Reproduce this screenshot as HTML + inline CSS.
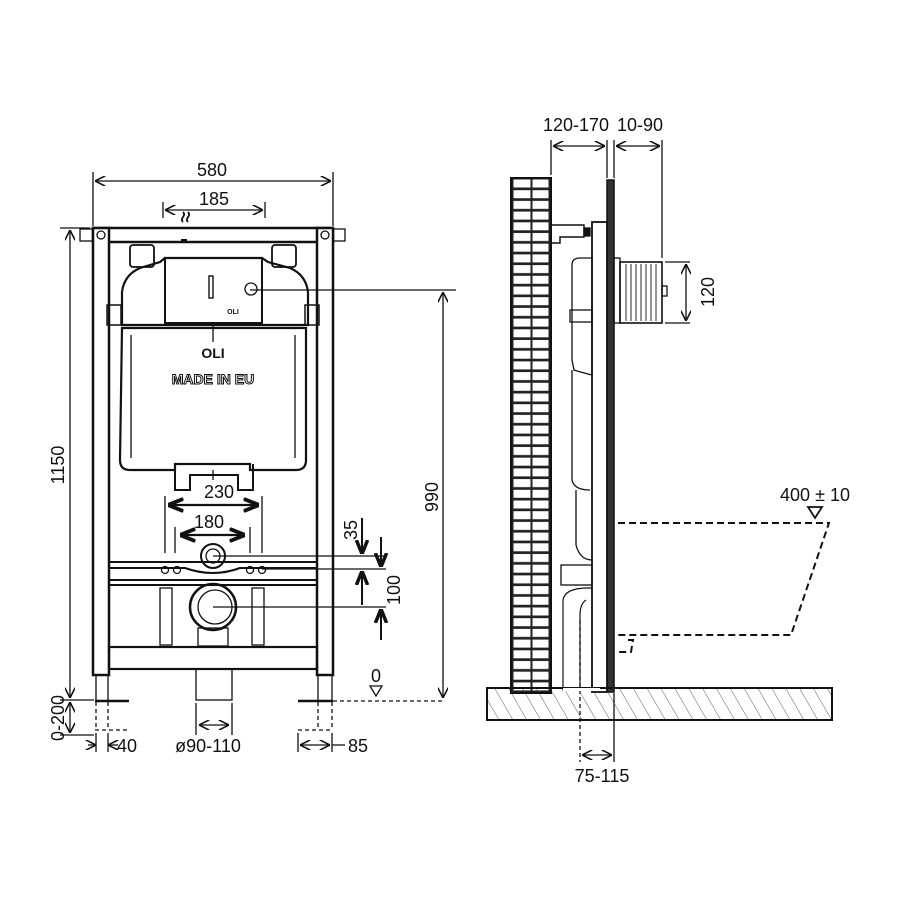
<!DOCTYPE html>
<html><head><meta charset="utf-8"><style>
html,body{margin:0;padding:0;background:#fff}
svg{display:block}
text{font-family:"Liberation Sans",sans-serif;font-size:18px;fill:#111}
</style></head><body>
<svg width="900" height="900" viewBox="0 0 900 900" xmlns="http://www.w3.org/2000/svg">
<defs>
<marker id="a" viewBox="0 0 10 10" refX="10" refY="5" markerWidth="8" markerHeight="8" orient="auto-start-reverse"><path d="M0,0 L10,5 L0,10" fill="none" stroke="#111" stroke-width="1.5"/></marker>
<marker id="b" viewBox="0 0 10 10" refX="10" refY="5" markerWidth="7" markerHeight="7" orient="auto-start-reverse"><path d="M0,1 L10,5 L0,9" fill="none" stroke="#111" stroke-width="2.5"/></marker>
<pattern id="brick" x="511" y="178" width="40" height="10.7" patternUnits="userSpaceOnUse">
<rect x="0" y="0" width="40" height="10.7" fill="#222"/>
<rect x="2.5" y="1.5" width="17" height="8" fill="#fff"/>
<rect x="21.5" y="1.5" width="16" height="8" fill="#fff"/>
</pattern>
<pattern id="hatch" width="12" height="12" patternUnits="userSpaceOnUse" patternTransform="rotate(-30)">
<line x1="0" y1="0" x2="0" y2="12" stroke="#333" stroke-width="0.8"/>
</pattern>
</defs>
<g stroke="#111" fill="none" stroke-width="1.3">
<line x1="93" y1="172" x2="93" y2="226"/><line x1="333" y1="172" x2="333" y2="226"/>
<line x1="95" y1="181" x2="331" y2="181" marker-start="url(#a)" marker-end="url(#a)"/>
<line x1="163" y1="202" x2="163" y2="218"/><line x1="265" y1="202" x2="265" y2="218"/>
<line x1="165" y1="210" x2="263" y2="210" marker-start="url(#a)" marker-end="url(#a)"/>
<rect x="93" y="228" width="240" height="14" stroke-width="2.5"/>
<rect x="93" y="228" width="16" height="447" fill="#fff" stroke-width="2.5"/>
<rect x="317" y="228" width="16" height="447" fill="#fff" stroke-width="2.5"/>
<rect x="80" y="229" width="13" height="12"/><rect x="333" y="229" width="12" height="12"/>
<circle cx="101" cy="235" r="4"/><circle cx="325" cy="235" r="4"/>
<path d="M183,222 c-4,-4 4,-6 0,-10 M188,222 c-4,-4 4,-6 0,-10" stroke-width="1.8"/>
<line x1="181" y1="240" x2="187" y2="240" stroke-width="2"/>
<path d="M122,325 L122,292 Q124,275 140,268 L160,262 L165,258 L262,258 L268,262 L290,268 Q306,275 308,292 L308,325 Z" stroke-width="2.2"/>
<rect x="130" y="245" width="24" height="22" rx="3" stroke-width="1.8"/><rect x="272" y="245" width="24" height="22" rx="3" stroke-width="1.8"/>
<rect x="165" y="258" width="97" height="65" stroke-width="2"/>
<rect x="209" y="276" width="4" height="22" stroke-width="1.4"/>
<circle cx="251" cy="289" r="6"/>
<rect x="107" y="305" width="14" height="20" stroke-width="1.5"/><rect x="305" y="305" width="14" height="20" stroke-width="1.5"/>
<line x1="213" y1="323" x2="213" y2="342"/>
<path d="M122,328 L306,328 L306,460 Q306,470 296,470 L250,470 L250,464 L175,464 L175,470 L130,470 Q120,470 120,460 Z" stroke-width="2.2"/>
<line x1="131" y1="335" x2="131" y2="458"/><line x1="295" y1="335" x2="295" y2="458"/>
<path d="M175,464 L175,490 L190,490 L190,475 L238,475 L238,490 L253,490 L253,464" stroke-width="2"/>
<line x1="213" y1="470" x2="213" y2="480"/>
<line x1="165" y1="496" x2="165" y2="553"/><line x1="262" y1="496" x2="262" y2="553"/>
<line x1="175" y1="527" x2="175" y2="553"/><line x1="250" y1="527" x2="250" y2="553"/>
<line x1="168" y1="505" x2="259" y2="505" marker-start="url(#b)" marker-end="url(#b)" stroke-width="2.2"/>
<line x1="180" y1="535" x2="245" y2="535" marker-start="url(#b)" marker-end="url(#b)" stroke-width="2.2"/>
<circle cx="213" cy="556" r="12" stroke-width="2"/><circle cx="213" cy="556" r="7"/>
<path d="M109,562 L317,562 M109,580 L317,580 M109,568 L185,568 Q213,578 240,568 L317,568" stroke-width="2"/>
<circle cx="165" cy="570" r="3.5"/><circle cx="177" cy="570" r="3.5"/><circle cx="250" cy="570" r="3.5"/><circle cx="262" cy="570" r="3.5"/>
<rect x="109" y="585" width="208" height="62" stroke-width="2"/>
<rect x="160" y="588" width="12" height="57"/><rect x="252" y="588" width="12" height="57"/>
<circle cx="213" cy="607" r="23" stroke-width="2.5"/><circle cx="215" cy="607" r="17"/>
<rect x="198" y="628" width="30" height="18"/>
<rect x="109" y="647" width="208" height="22" stroke-width="2.2"/>
<rect x="196" y="669" width="36" height="31"/>
<line x1="96" y1="675" x2="96" y2="700"/><line x1="108" y1="675" x2="108" y2="700"/>
<line x1="318" y1="675" x2="318" y2="700"/><line x1="332" y1="675" x2="332" y2="700"/>
<line x1="95" y1="701" x2="129" y2="701" stroke-width="2.5"/><line x1="298" y1="701" x2="333" y2="701" stroke-width="2.5"/>
<g stroke-dasharray="4,3">
<line x1="96" y1="702" x2="96" y2="730"/><line x1="108" y1="702" x2="108" y2="730"/>
<line x1="318" y1="702" x2="318" y2="730"/><line x1="332" y1="702" x2="332" y2="730"/>
<line x1="95" y1="730" x2="128" y2="730"/><line x1="298" y1="730" x2="333" y2="730"/>
<line x1="333" y1="701" x2="445" y2="701"/>
</g>
<line x1="60" y1="228" x2="90" y2="228"/><line x1="60" y1="700" x2="94" y2="700"/><line x1="60" y1="735" x2="94" y2="735"/>
<line x1="70" y1="230" x2="70" y2="698" marker-start="url(#a)" marker-end="url(#a)"/>
<line x1="70" y1="702" x2="70" y2="733" marker-start="url(#a)" marker-end="url(#a)"/>
<line x1="250" y1="290" x2="456" y2="290"/>
<line x1="443" y1="292" x2="443" y2="698" marker-start="url(#a)" marker-end="url(#a)"/>
<line x1="213" y1="556" x2="386" y2="556"/><line x1="262" y1="569" x2="386" y2="569"/><line x1="213" y1="607" x2="386" y2="607"/>
<line x1="362" y1="518" x2="362" y2="554" marker-end="url(#b)" stroke-width="2"/>
<line x1="362" y1="605" x2="362" y2="571" marker-end="url(#b)" stroke-width="2"/>
<line x1="381" y1="537" x2="381" y2="567" marker-end="url(#b)" stroke-width="2"/>
<line x1="381" y1="640" x2="381" y2="609" marker-end="url(#b)" stroke-width="2"/>
<path d="M370,686 L382,686 L376,696 Z"/>
<line x1="96" y1="733" x2="96" y2="752"/><line x1="108" y1="733" x2="108" y2="752"/>
<line x1="88" y1="745" x2="96" y2="745" marker-end="url(#a)"/><line x1="118" y1="745" x2="108" y2="745" marker-end="url(#a)"/>
<line x1="196" y1="703" x2="196" y2="735"/><line x1="232" y1="703" x2="232" y2="735"/>
<line x1="199" y1="725" x2="229" y2="725" marker-start="url(#a)" marker-end="url(#a)"/>
<line x1="298" y1="733" x2="298" y2="752"/><line x1="332" y1="733" x2="332" y2="752"/>
<line x1="300" y1="745" x2="330" y2="745" marker-start="url(#a)" marker-end="url(#a)"/>
<line x1="332" y1="745" x2="345" y2="745"/>

<rect x="511" y="178" width="40" height="515" fill="url(#brick)" stroke-width="2"/>
<line x1="551" y1="140" x2="551" y2="175"/><line x1="607" y1="140" x2="607" y2="178"/><line x1="614" y1="140" x2="614" y2="178"/><line x1="662" y1="140" x2="662" y2="258"/>
<line x1="553" y1="146" x2="605" y2="146" marker-start="url(#a)" marker-end="url(#a)"/>
<line x1="616" y1="146" x2="660" y2="146" marker-start="url(#a)" marker-end="url(#a)"/>
<rect x="607" y="180" width="7" height="512" fill="#333" stroke-width="1.5"/>
<rect x="592" y="222" width="15" height="470" fill="#fff" stroke-width="1.8"/>
<path d="M552,225 L584,225 L584,237 L560,237 L560,243 L552,243" stroke-width="1.5"/>
<rect x="584" y="228" width="6" height="8" fill="#111"/>
<path d="M572,265 Q572,258 580,258 L592,258 L592,375 Q580,372 574,370 L572,360 Z" stroke-width="1.3"/>
<rect x="570" y="310" width="22" height="12"/>
<path d="M572,370 L572,480 Q574,490 590,490 M576,490 L576,545 Q580,560 592,560" stroke-width="1.3"/>
<rect x="561" y="565" width="31" height="20"/>
<path d="M563,600 Q565,588 588,588 L592,588 M563,600 L563,690 L600,690 M586,600 Q580,604 580,615 L580,690" stroke-width="1.2"/>
<line x1="580" y1="620" x2="580" y2="762" stroke-dasharray="4,3"/>
<line x1="614" y1="693" x2="614" y2="762"/>
<line x1="582" y1="755" x2="612" y2="755" marker-start="url(#a)" marker-end="url(#a)"/>
<rect x="614" y="258" width="6" height="65"/>
<rect x="620" y="262" width="42" height="61" stroke-width="1.6"/>
<g stroke-width="0.9"><line x1="626" y1="264" x2="626" y2="321"/><line x1="631" y1="264" x2="631" y2="321"/><line x1="636" y1="264" x2="636" y2="321"/><line x1="641" y1="264" x2="641" y2="321"/><line x1="646" y1="264" x2="646" y2="321"/><line x1="651" y1="264" x2="651" y2="321"/><line x1="656" y1="264" x2="656" y2="321"/></g>
<rect x="662" y="286" width="5" height="10"/>
<line x1="665" y1="262" x2="690" y2="262"/><line x1="665" y1="323" x2="690" y2="323"/>
<line x1="686" y1="264" x2="686" y2="321" marker-start="url(#a)" marker-end="url(#a)"/>
<path d="M618,523 L829,523 L791,635 L618,635 M628,640 L633,640 L631,652 L618,652" stroke-dasharray="7,4" stroke-width="2"/>
<path d="M808,507 L822,507 L815,518 Z" stroke-width="1.8"/>
<rect x="487" y="688" width="345" height="32" fill="url(#hatch)" stroke-width="2"/>
<rect x="563" y="688" width="37" height="3" fill="#fff" stroke="none"/>
</g>
<text x="212" y="176" text-anchor="middle">580</text>
<text x="214" y="205" text-anchor="middle">185</text>
<text x="213" y="358" text-anchor="middle" style="font-weight:bold;font-size:14px">OLI</text>
<text x="213" y="384" text-anchor="middle" style="font-weight:bold;font-size:14px;fill:#fff;stroke:#111;stroke-width:1">MADE IN EU</text>
<text x="233" y="314" text-anchor="middle" style="font-weight:bold;font-size:7px">OLI</text>
<text x="219" y="498" text-anchor="middle">230</text>
<text x="209" y="528" text-anchor="middle">180</text>
<text x="376" y="682" text-anchor="middle">0</text>
<text x="127" y="752" text-anchor="middle">40</text>
<text x="208" y="752" text-anchor="middle">ø90-110</text>
<text x="358" y="752" text-anchor="middle">85</text>
<text transform="translate(64,465) rotate(-90)" text-anchor="middle">1150</text>
<text transform="translate(64,718) rotate(-90)" text-anchor="middle">0-200</text>
<text transform="translate(438,497) rotate(-90)" text-anchor="middle">990</text>
<text transform="translate(357,530) rotate(-90)" text-anchor="middle">35</text>
<text transform="translate(400,590) rotate(-90)" text-anchor="middle">100</text>
<text transform="translate(714,292) rotate(-90)" text-anchor="middle">120</text>
<text x="576" y="131" text-anchor="middle">120-170</text>
<text x="640" y="131" text-anchor="middle">10-90</text>
<text x="815" y="501" text-anchor="middle">400 ± 10</text>
<text x="602" y="782" text-anchor="middle">75-115</text>
</svg>
</body></html>
